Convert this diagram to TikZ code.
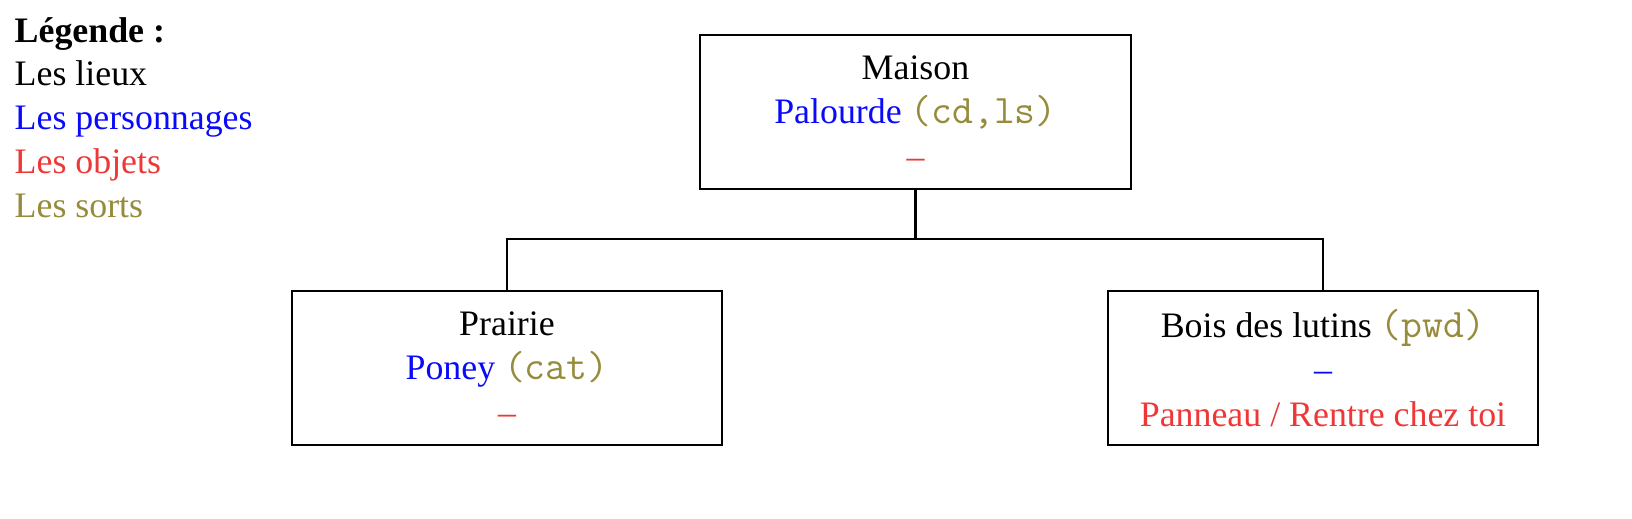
\documentclass[tikz,border=0pt]{standalone}
\usepackage{fontspec}
\setmainfont{Liberation Serif}
\definecolor{perso}{RGB}{10,10,250}
\definecolor{objet}{RGB}{240,55,55}
\definecolor{sortc}{RGB}{150,140,60}
\newcommand{\spell}[1]{\textcolor{sortc}{{\fontsize{11.3}{12.4}\selectfont\ttfamily #1}}}
\begin{document}
\begin{tikzpicture}[x=0.279pt,y=-0.279pt,
  box/.style={draw, line width=0.6pt, minimum width=120.2pt, minimum height=43pt,
    inner sep=0pt, align=center, font=\fontsize{10}{12.4}\selectfont},
  leg/.style={anchor=base west, inner sep=0pt, font=\fontsize{10}{12}\selectfont},
  link/.style={line width=0.6pt}]
\fill[white] (0,0) rectangle (1632,518);
\node[leg] (l0) at (14,42) {\textbf{Légende :}};
\node[leg] (l1) at (14,85) {Les lieux};
\node[leg] (l2) at (14,129) {\textcolor{perso}{Les personnages}};
\node[leg] (l3) at (14,173) {\textcolor{objet}{Les objets}};
\node[leg] (l4) at (14,217) {\textcolor{sortc}{Les sorts}};
\node[box] (maison) at (915.5,112) {Maison\\\textcolor{perso}{Palourde} \spell{(cd,ls)}\\\textcolor{objet}{–}};
\node[box] (prairie) at (507,368) {Prairie\\\textcolor{perso}{Poney} \spell{(cat)}\\\textcolor{objet}{–}};
\node[box] (bois) at (1323,368) {Bois des lutins \spell{(pwd)}\\\textcolor{perso}{–}\\\textcolor{objet}{Panneau / Rentre chez toi}};
\coordinate (mid) at (915.5,239);
\draw[link] (maison.south) -- (mid);
\draw[link] (prairie.north) |- (mid) -| (bois.north);
\end{tikzpicture}
\end{document}
